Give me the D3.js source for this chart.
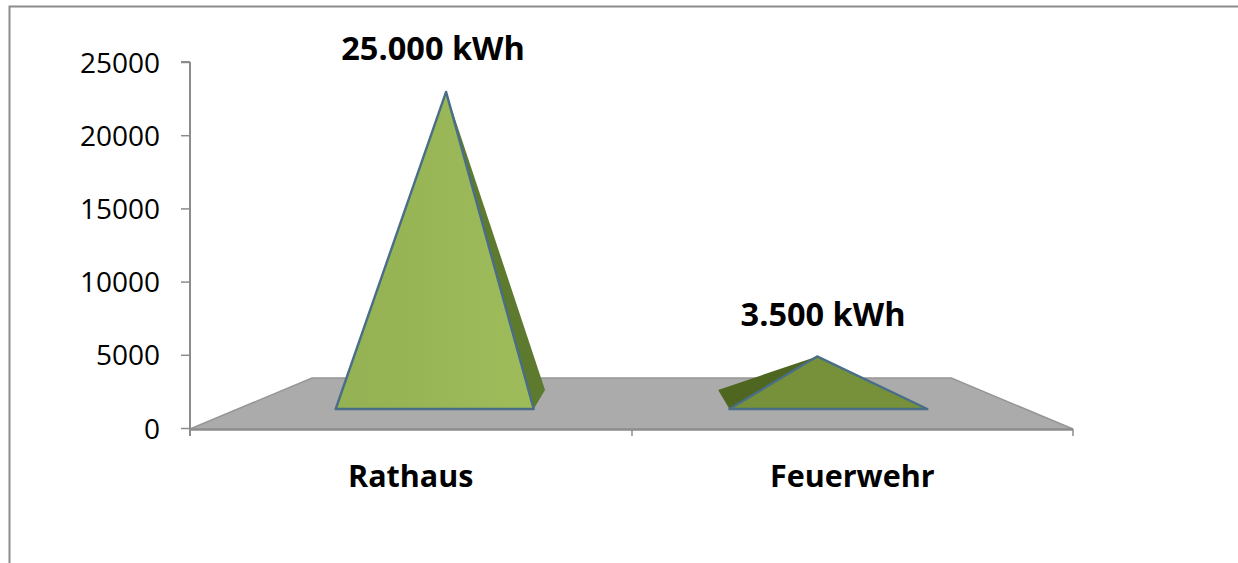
<!DOCTYPE html>
<html><head><meta charset="utf-8">
<script src="https://cdn.jsdelivr.net/npm/d3@7/dist/d3.min.js"></script>
<style>html,body{margin:0;padding:0;background:#fff}svg{display:block}text{font-family:"Open Sans",Lato,sans-serif;fill:#000}</style>
</head><body><svg id="c" width="1238" height="563"></svg>
<script>
const categories = ["Rathaus","Feuerwehr"];
const values = [25000,3500];
const valueLabels = ["25.000 kWh","3.500 kWh"];
const yTicks = [0,5000,10000,15000,20000,25000];

const svg = d3.select("#c");
const W = 1238, H = 563;
const x = d3.scaleBand().domain(categories).range([190,1073]);
const y = d3.scaleLinear().domain([0,25000]).range([428,62]);

// perspective floor
const vanishX = 632, backShrink = 0.276, floorDepth = 51, floorY = 429;
function project(X, d, v){
  const s = 1 - d*backShrink;
  return [vanishX + (X-vanishX)*s, floorY - floorDepth*d - s*(y(0)-y(v))];
}
const defs = svg.append("defs");
const grad = defs.append("linearGradient").attr("id","face").attr("x1",0).attr("x2",1).attr("y1",0).attr("y2",0);
grad.append("stop").attr("offset",0).attr("stop-color","#94B153");
grad.append("stop").attr("offset",1).attr("stop-color","#9EBC5A");

// frame
svg.append("path").attr("d",`M9.5,${H} V6.5 H${W}`).attr("fill","none").attr("stroke","#8c8c8c").attr("stroke-width",2);

// floor
const fl = [project(190,0,0),project(1073,0,0),project(1073,1,0),project(190,1,0)];
svg.append("path").attr("d",d3.line()(fl)+"Z").attr("fill","#ABABAB");
svg.append("path").attr("d",d3.line()([fl[0],fl[3],fl[2],fl[1]])).attr("fill","none").attr("stroke","#969696").attr("stroke-width",1.5);

// axes
const axisColor = "#8c8c8c";
const gy = svg.append("g").attr("transform","translate(190,0)").call(d3.axisLeft(y).tickValues(yTicks).tickSize(9).tickPadding(21).tickFormat(d3.format("d")));
gy.select(".domain").attr("stroke",axisColor).attr("stroke-width",2).attr("d","M0,62H-9M0,62V436");
gy.selectAll("line").attr("stroke",axisColor).attr("stroke-width",1.5);
gy.selectAll("text").attr("font-size",28).attr("font-family","Open Sans").attr("dy","0.36em").style("fill","#000");

const xEdges = [190,632,1073];
svg.append("path").attr("d",`M190,429.5H1073`).attr("stroke",axisColor).attr("stroke-width",2.5);
svg.selectAll(".xt").data(xEdges).join("line").attr("x1",d=>d).attr("x2",d=>d).attr("y1",429).attr("y2",436).attr("stroke",axisColor).attr("stroke-width",1.5);

// pyramids
const near = 0.392, far = 0.765, halfW = 111;
const styles = [
 {face:"url(#face)", side:"#5D7A2E", hidden:"right"},
 {face:"#769139", side:"#4F6620", hidden:"left"}
];
const line = d3.line();
categories.forEach((c,i)=>{
  const cx = x(c)+x.bandwidth()/2, st = styles[i];
  const fl_ = project(cx-halfW,near,0), fr = project(cx+halfW,near,0);
  const peak = project(cx,(near+far)/2,values[i]);
  const back = st.hidden==="right" ? project(cx+halfW,far,0) : project(cx-halfW,far,0);
  const frontSide = st.hidden==="right" ? fr : fl_;
  svg.append("path").attr("d",line([frontSide,back,peak])+"Z").attr("fill",st.side);
  svg.append("path").attr("d",line([fl_,fr,peak])+"Z").attr("fill",st.face)
    .attr("stroke","#4A6E88").attr("stroke-width",2.4).attr("stroke-linejoin","round");
});

// text
const labelY = [60,326], labelShift = [-13,6];
categories.forEach((c,i)=>{
  const cx = x(c)+x.bandwidth()/2;
  svg.append("text").attr("x",cx).attr("y",487).attr("text-anchor","middle").attr("font-size",30.5).attr("font-weight",700).text(c);
  svg.append("text").attr("x",project(cx,(near+far)/2,0)[0]+labelShift[i]).attr("y",labelY[i]).attr("text-anchor","middle").attr("font-size",32.5).attr("font-weight",700).text(valueLabels[i]);
});
</script></body></html>
